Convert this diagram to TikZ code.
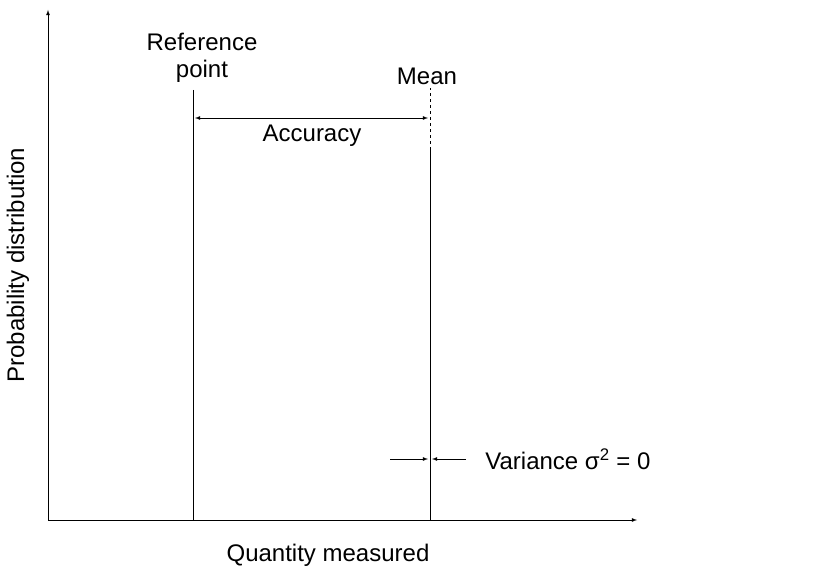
\documentclass[tikz,border=0pt]{standalone}
\usepackage{fontspec}
\setmainfont{Liberation Sans}
\begin{document}
\begin{tikzpicture}[x=1pt, y=-1pt, >=latex, thick]
  \tikzstyle{L}=[font=\fontsize{24}{27}\selectfont, inner sep=1pt]
  \useasboundingbox (0,0) rectangle (831,575);

  \coordinate (O) at (48,520);
  \coordinate (Ytop) at (48,10);
  \coordinate (Xend) at (637,520);
  \draw[->] (O) -- (Ytop);
  \draw[->] (O) -- (Xend);

  \coordinate (Rtop) at (193,90);
  \coordinate (Rbot) at (193,520);
  \coordinate (Mtop) at (430,88);
  \coordinate (Mmid) at (430,150);
  \coordinate (Mbot) at (430,520);
  \draw (Rtop) -- (Rbot);
  \draw (Mbot) -- (Mmid);
  \draw[dashed] (Mmid) -- (Mtop);

  % accuracy
  \coordinate (Aa) at (193,118);
  \coordinate (Ab) at (430,118);
  \draw[<->, shorten >=2pt, shorten <=2pt] (Aa) -- (Ab);
  \node[L] (acc) at (312,136) {Accuracy};

  % variance
  \coordinate (Va) at (390,459);
  \coordinate (Vb) at (428,459);
  \coordinate (Vc) at (466,459);
  \coordinate (Vd) at (432,459);
  \draw[->] (Va) -- (Vb);
  \draw[->] (Vc) -- (Vd);
  \node[L, anchor=west] (var) at (484,459) {Variance σ\textsuperscript{2} = 0};

  \node[L, align=center] (ref) at (202,58) {Reference\\point};
  \node[L] (mean) at (427,76) {Mean};
  \node[L] (xl) at (328,555) {Quantity measured};
  \node[L, rotate=90] (yl) at (18,265) {Probability distribution};
\end{tikzpicture}
\end{document}
